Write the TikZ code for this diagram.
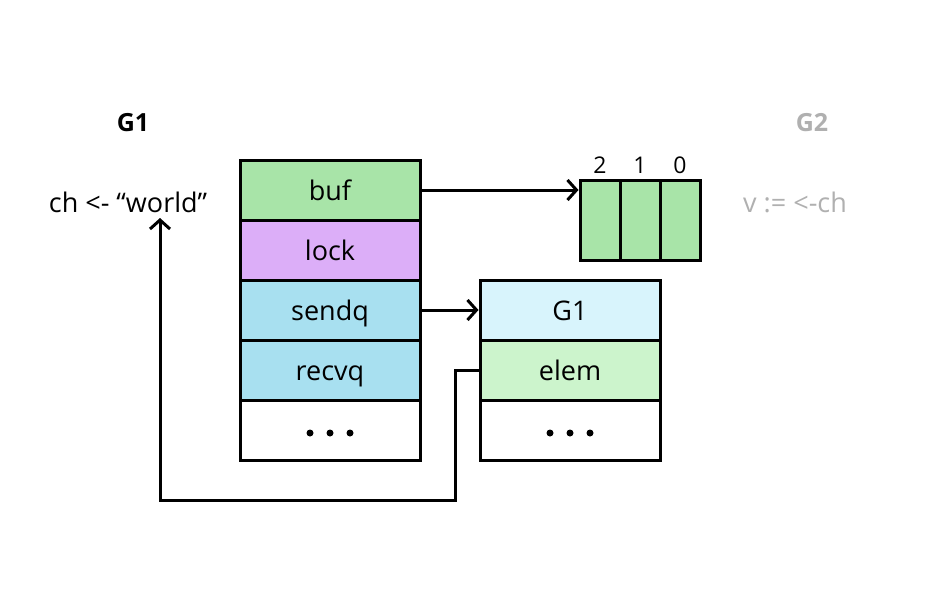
\documentclass[tikz,border=0pt]{standalone}
\usepackage{fontspec}
\setmainfont{Open Sans}
\usetikzlibrary{arrows.meta}
\definecolor{bufgreen}{HTML}{A8E4A8}
\definecolor{lockpurple}{HTML}{DCAEF8}
\definecolor{queueblue}{HTML}{A8E0F0}
\definecolor{gpale}{HTML}{D8F4FC}
\definecolor{elemgreen}{HTML}{CCF4CC}
\definecolor{faded}{HTML}{B0B0B0}
\tikzset{
  cell/.style={draw=black, line width=3pt, minimum width=180pt, minimum height=60pt,
    inner sep=0pt, text height=21pt, text depth=1pt, font=\fontsize{27}{30}\selectfont},
  slot/.style={draw=black, line width=3pt, fill=bufgreen, minimum width=40pt,
    minimum height=80pt, inner sep=0pt},
  idx/.style={font=\fontsize{23}{26}\selectfont},
  lbl/.style={font=\fontsize{27}{30}\selectfont},
  title/.style={font=\fontsize{25}{28}\selectfont\bfseries},
  tip/.style={-{Straight Barb[length=9pt,width=20pt,line width=3pt]}},
  wire/.style={line width=3pt},
  dot/.style={fill=black, circle, inner sep=0pt, minimum size=7pt}
}
\begin{document}
\begin{tikzpicture}[x=1pt,y=-1pt]
  \useasboundingbox (0,0) rectangle (929,592);

  % goroutine labels and statements
  \node[title] (g1) at (133,123) {G1};
  \node[title, text=faded] (g2) at (812,123) {G2};
  \node[lbl, anchor=base] (send) at (128,212) {ch <- “world”};
  \node[lbl, anchor=base, text=faded] (recvstmt) at (795,212) {v := <-ch};

  % channel structure
  \node[cell, fill=bufgreen]   (buf)   at (330,190) {buf};
  \node[cell, fill=lockpurple] (lock)  at (330,250) {lock};
  \node[cell, fill=queueblue]  (sendq) at (330,310) {sendq};
  \node[cell, fill=queueblue]  (recvq) at (330,370) {recvq};
  \node[cell, fill=white]      (rest)  at (330,430) {};
  \foreach \dx [count=\i] in {-20,0,20}
    \node[dot] (rd\i) at (330+\dx,433) {};

  % circular buffer
  \node[slot] (s2) at (600,220) {};
  \node[slot] (s1) at (640,220) {};
  \node[slot] (s0) at (680,220) {};
  \node[idx] (i2) at (600,165) {2};
  \node[idx] (i1) at (640,165) {1};
  \node[idx] (i0) at (680,165) {0};

  % waiting sudog
  \node[cell, fill=gpale]     (sg)   at (570,310) {G1};
  \node[cell, fill=elemgreen] (elem) at (570,370) {elem};
  \node[cell, fill=white]     (srest) at (570,430) {};
  \foreach \dx [count=\i] in {-20,0,20}
    \node[dot] (sd\i) at (570+\dx,433) {};

  % pointers
  \draw[wire, tip] (buf.east) -- (buf.east -| s2.west);
  \draw[wire, tip] (sendq.east) -- (sg.west);
  \coordinate (turn) at (455,500);
  \coordinate (valin) at (160,218);
  \draw[wire, tip] (elem.west) -| (turn) -| (valin);
\end{tikzpicture}
\end{document}
